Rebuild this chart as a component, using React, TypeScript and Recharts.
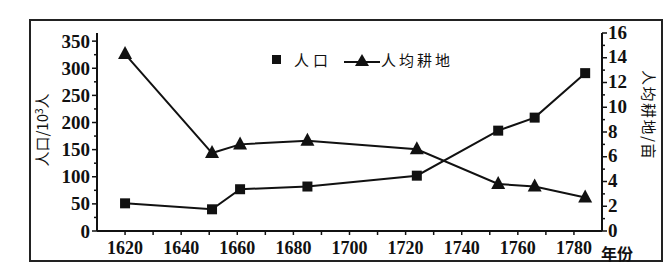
import React from 'react';
import { LineChart, Line, XAxis, YAxis, Legend } from 'recharts';

// 年份 / 人口(10^3人) / 人均耕地(亩)
const years = [1620, 1651, 1661, 1685, 1724, 1753, 1766, 1784];
const population = [51, 40, 77, 82, 102, 185, 209, 291];
const farmland = [14.3, 6.3, 7.0, 7.3, 6.6, 3.8, 3.6, 2.7];

const xTicks = [1620, 1630, 1640, 1650, 1660, 1670, 1680, 1690, 1700, 1710, 1720, 1730, 1740, 1750, 1760, 1770, 1780];
const leftTicks = [0, 25, 50, 75, 100, 125, 150, 175, 200, 225, 250, 275, 300, 325, 350];
const rightTicks = [0, 1, 2, 3, 4, 5, 6, 7, 8, 9, 10, 11, 12, 13, 14, 15, 16];

const chartData = years.map((year, i) => ({
  year,
  population: population[i],
  farmland: farmland[i],
}));

const INK = '#111';
const SERIF = '"Liberation Serif", "Times New Roman", serif';
const CJK = '"Noto Sans CJK SC", "Noto Sans", sans-serif';

const BottomTick = (props: any) => {
  const { x, y, payload } = props;
  const v = payload.value;
  return (
    <g>
      <line x1={x} y1={y} x2={x} y2={y + 4} stroke={INK} strokeWidth={1.5} />
      {v % 20 === 0 && (
        <text x={x} y={y + 23} textAnchor="middle" fontFamily={SERIF} fontWeight="bold" fontSize={18} fill={INK}>
          {v}
        </text>
      )}
    </g>
  );
};

const LeftTick = (props: any) => {
  const { x, y, payload } = props;
  const v = payload.value;
  const major = v % 50 === 0;
  return (
    <g>
      <line x1={x} y1={y} x2={x - (major ? 5 : 3)} y2={y} stroke={INK} strokeWidth={1.5} />
      {major && (
        <text x={x - 7} y={y + 6.5} textAnchor="end" fontFamily={SERIF} fontWeight="bold" fontSize={19} fill={INK}>
          {v}
        </text>
      )}
    </g>
  );
};

const RightTick = (props: any) => {
  const { x, y, payload } = props;
  const v = payload.value;
  const major = v % 2 === 0;
  return (
    <g>
      <line x1={x} y1={y} x2={x + (major ? 5 : 3)} y2={y} stroke={INK} strokeWidth={1.5} />
      {major && (
        <text x={x + 6} y={y + 5.5} textAnchor="start" fontFamily={SERIF} fontWeight="bold" fontSize={19} fill={INK}>
          {v}
        </text>
      )}
    </g>
  );
};

const SquareDot = (props: any) => {
  const { cx, cy, index } = props;
  return <rect key={`sq-${index}`} x={cx - 5} y={cy - 5} width={10} height={10} fill={INK} />;
};

const TriangleDot = (props: any) => {
  const { cx, cy, index } = props;
  return <path key={`tr-${index}`} d={`M${cx},${cy - 8} L${cx + 7},${cy + 5} L${cx - 7},${cy + 5} Z`} fill={INK} />;
};

const LegendContent = () => (
  <div style={{ display: 'flex', alignItems: 'center', fontFamily: CJK, fontSize: 15, color: INK, whiteSpace: 'nowrap' }}>
    <svg width={10} height={10} style={{ marginRight: 12 }}>
      <rect x={0} y={0} width={9} height={9} fill={INK} />
    </svg>
    <span style={{ letterSpacing: 4 }}>人口</span>
    <svg width={36} height={16} style={{ marginLeft: 12, marginRight: 1 }}>
      <line x1={0} y1={10} x2={36} y2={10} stroke={INK} strokeWidth={2} />
      <path d="M18,2 L25,14 L11,14 Z" fill={INK} />
    </svg>
    <span style={{ letterSpacing: 3 }}>人均耕地</span>
  </div>
);

export default function App() {
  return (
    <div style={{ position: 'absolute', left: 0, top: 0, width: 665, height: 270, background: '#fff' }}>
      <div
        style={{
          position: 'absolute',
          left: 29,
          top: 19,
          width: 634,
          height: 243,
          border: '2px solid #222',
          boxSizing: 'border-box',
        }}
      />
      <LineChart
        width={665}
        height={270}
        data={chartData}
        margin={{ top: 33, right: 23, bottom: 9, left: 37 }}
        style={{ position: 'absolute', left: 0, top: 0 }}
      >
        <XAxis
          dataKey="year"
          type="number"
          domain={[1610, 1790]}
          ticks={xTicks}
          tick={<BottomTick />}
          tickSize={0}
          tickMargin={0}
          tickLine={false}
          interval={0}
          height={30}
          axisLine={{ stroke: INK, strokeWidth: 2 }}
          label={{
            content: () => (
              <text x={601} y={259.5} fontFamily={CJK} fontWeight="bold" fontSize={16} fill={INK}>
                年份
              </text>
            ),
          }}
        />
        <YAxis
          yAxisId="left"
          type="number"
          domain={[0, 365]}
          ticks={leftTicks}
          tick={<LeftTick />}
          tickSize={0}
          tickMargin={0}
          tickLine={false}
          interval={0}
          width={60}
          axisLine={{ stroke: INK, strokeWidth: 2 }}
          label={{
            content: () => (
              <text
                transform="translate(48,130) rotate(-90)"
                textAnchor="middle"
                fontFamily={CJK}
                fontSize={15}
                fill={INK}
              >
                人口/10<tspan dy={-5} fontSize={10}>3</tspan><tspan dy={5}>人</tspan>
              </text>
            ),
          }}
        />
        <YAxis
          yAxisId="right"
          orientation="right"
          type="number"
          domain={[0, 16]}
          ticks={rightTicks}
          tick={<RightTick />}
          tickSize={0}
          tickMargin={0}
          tickLine={false}
          interval={0}
          width={40}
          axisLine={{ stroke: INK, strokeWidth: 2 }}
          label={{
            content: () => (
              <text
                transform="translate(643,115) rotate(90)"
                textAnchor="middle"
                fontFamily={CJK}
                fontSize={15}
                letterSpacing={1.5}
                fill={INK}
              >
                人均耕地/亩
              </text>
            ),
          }}
        />
        <Legend
          layout="horizontal"
          verticalAlign="middle"
          align="center"
          content={<LegendContent />}
          wrapperStyle={{ top: 49, left: 272, width: 'auto', height: 20 }}
        />
        <Line
          yAxisId="right"
          dataKey="farmland"
          stroke={INK}
          strokeWidth={2}
          dot={(p: any) => <TriangleDot {...p} />}
          isAnimationActive={false}
        />
        <Line
          yAxisId="left"
          dataKey="population"
          stroke={INK}
          strokeWidth={2}
          dot={(p: any) => <SquareDot {...p} />}
          isAnimationActive={false}
        />
      </LineChart>
    </div>
  );
}
